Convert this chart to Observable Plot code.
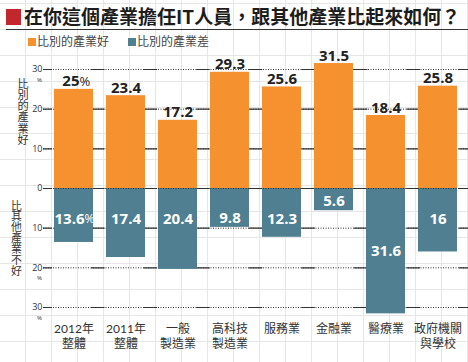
<!DOCTYPE html>
<html>
<head>
<meta charset="utf-8">
<script src="https://cdn.jsdelivr.net/npm/d3@7"></script>
<script src="https://cdn.jsdelivr.net/npm/@observablehq/plot@0.6"></script>
<style>
  html, body { margin: 0; padding: 0; background: #fff; }
  #wrap {
    position: relative; width: 468px; height: 362px; overflow: hidden;
    background-color: #fff;
    background-image:
      linear-gradient(to right, #e6e6e6 1px, transparent 1px),
      linear-gradient(to bottom, #e6e6e6 1px, transparent 1px);
    background-size: 26px 26px;
    background-position: 25px 3px;
    font-family: "Noto Sans CJK TC", "Noto Sans", sans-serif;
  }
  #title {
    position: absolute; left: 6px; top: 0px; width: 462px; height: 29px;
    border-bottom: 1.5px solid #333;
    font-weight: bold; font-size: 19px; color: #1c1c1c; line-height: 32px;
    white-space: nowrap;
  }
  #title .sq { display: inline-block; width: 15px; height: 16px; background: #c1272d; vertical-align: -1px; margin-right: 3px; }
  #legend { position: absolute; left: 28px; top: 33px; font-size: 12px; color: #444; white-space: nowrap; line-height: 16px; }
  #legend .sw { display: inline-block; width: 8px; height: 8px; vertical-align: 0px; margin-right: 1px; }
  #chart { position: absolute; left: 0; top: 0; }
  .side { position: absolute; writing-mode: vertical-rl; line-height: 1; color: #333; white-space: nowrap; }
</style>
</head>
<body>
<div id="wrap">
  <div id="chart"></div>
  <div id="title"><span class="sq"></span>在你這個產業擔任IT人員，跟其他產業比起來如何？</div>
  <div id="legend"><span class="sw" style="background:#f5912f"></span>比別的產業好<span style="display:inline-block;width:19px"></span><span class="sw" style="background:#4f7f90"></span>比別的產業差</div>
  <div class="side" id="sideTop" style="left:17px; top:78px; font-size:11.2px;"></div>
  <div class="side" id="sideBottom" style="left:10.5px; top:200px; font-size:10.9px;"></div>
</div>
<script>
const categories = ["2012年\n整體", "2011年\n整體", "一般\n製造業", "高科技\n製造業", "服務業", "金融業", "醫療業", "政府機關\n與學校"];
const better = [25, 23.4, 17.2, 29.3, 25.6, 31.5, 18.4, 25.8];
const worse = [13.6, 17.4, 20.4, 9.8, 12.3, 5.6, 31.6, 16];
const yTicks = [30, 20, 10, 0, -10, -20, -30];
const percentTicks = [30, -20, -30];
const sideLabels = ["比別的產業好", "比其他產業不好"];

document.getElementById("sideTop").textContent = sideLabels[0];
document.getElementById("sideBottom").textContent = sideLabels[1];

const ORANGE = "#f5912f", BLUE = "#4f7f90", INK = "#333";
const W = 468, H = 362, ML = 43, MR = 0, MT = 69, MB = 55;
const PI = 0.258, PO = 0.171;
const n = categories.length;
const step = (W - ML - MR) / (n - PI + 2 * PO);
const bw = step * (1 - PI), gapInner = step * PI, outer = step * PO;

const rows = categories.map((c, i) => ({cat: c, good: better[i], bad: worse[i], i}));
const numFont = "'Open Sans', 'Noto Sans', sans-serif";

const badLabelY = (v) => v > 25 ? v / 2 : Math.min(7.7, v - 2.3);

const plot = Plot.plot({
  width: W, height: H,
  marginLeft: ML, marginRight: MR, marginTop: MT, marginBottom: MB,
  style: {background: "none", overflow: "visible"},
  x: {domain: categories, paddingInner: PI, paddingOuter: PO, axis: null},
  y: {domain: [-30, 30], axis: null},
  marks: [
    // dotted rules
    Plot.ruleY(yTicks, {stroke: INK, strokeWidth: 1, strokeDasharray: "1,1.5"}),
    // solid segments in the gaps between bars
    Plot.ruleY(yTicks, {stroke: INK, strokeWidth: 1.2, strokeDasharray: `${gapInner} ${bw}`, strokeDashoffset: gapInner - outer}),
    Plot.barY(rows, {x: "cat", y1: 0, y2: "good", fill: ORANGE}),
    Plot.barY(rows, {x: "cat", y1: 0, y2: d => -d.bad, fill: BLUE}),
    Plot.ruleY([0], {stroke: INK, strokeWidth: 1, strokeDasharray: "1,1.5"}),
    // y tick labels
    Plot.text(yTicks, {y: d => d, text: d => String(Math.abs(d)), frameAnchor: "left", textAnchor: "end", dx: -1, fontSize: 9, fill: INK, fontFamily: numFont}),
    Plot.text(percentTicks, {y: d => d, text: () => "%", frameAnchor: "left", textAnchor: "middle", dx: -4, dy: 10.5, fontSize: 6, fill: INK, fontFamily: numFont}),
    // top value labels
    Plot.text(rows.filter(d => d.i !== 0), {x: "cat", y: "good", text: d => String(d.good), dy: -3, lineAnchor: "bottom", fontSize: 15, fontWeight: "bold", fill: "#222", fontFamily: numFont}),
    Plot.text(rows.filter(d => d.i === 0), {x: "cat", y: "good", text: d => String(d.good), dy: -3, dx: 5.5, textAnchor: "end", lineAnchor: "bottom", fontSize: 15, fontWeight: "bold", fill: "#222", fontFamily: numFont}),
    Plot.text(rows.filter(d => d.i === 0), {x: "cat", y: "good", text: () => "%", dy: -3, dx: 5.5, textAnchor: "start", lineAnchor: "bottom", fontSize: 13, fill: "#222", fontFamily: numFont}),
    // bottom value labels
    Plot.text(rows.filter(d => d.i !== 0), {x: "cat", y: d => -badLabelY(d.bad), text: d => String(d.bad), fontSize: 15, fontWeight: "bold", fill: "white", fontFamily: numFont}),
    Plot.text(rows.filter(d => d.i === 0), {x: "cat", y: d => -badLabelY(d.bad), text: d => String(d.bad), dx: 10.5, textAnchor: "end", fontSize: 15, fontWeight: "bold", fill: "white", fontFamily: numFont}),
    Plot.text(rows.filter(d => d.i === 0), {x: "cat", y: d => -badLabelY(d.bad), text: () => "%", dx: 10.5, textAnchor: "start", fontSize: 12, fill: "white", fontFamily: numFont}),
    // category labels
    Plot.text(categories, {x: d => d, text: d => d, frameAnchor: "bottom", lineAnchor: "top", dy: 15, fontSize: 12, lineHeight: 1.22, fill: "#333", fontFamily: "Lato, 'Noto Sans CJK TC', sans-serif"})
  ]
});
document.getElementById("chart").appendChild(plot);
</script>
</body>
</html>
